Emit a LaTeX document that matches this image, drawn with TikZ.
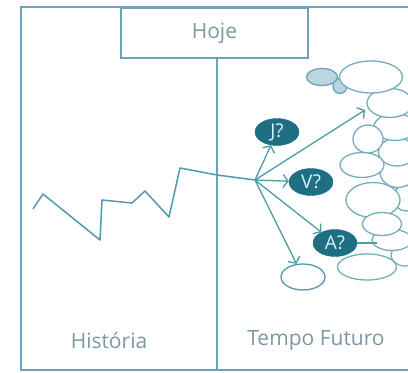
\documentclass[tikz,border=0pt]{standalone}
\usepackage{fontspec}
\setmainfont{Open Sans}
\usetikzlibrary{arrows.meta,shapes.geometric}
\definecolor{framec}{HTML}{6AA3BA}
\definecolor{linec}{HTML}{4F9BAA}
\definecolor{darkc}{HTML}{1E6F84}
\definecolor{labc}{HTML}{7A99A2}
\definecolor{shadec}{HTML}{BBD6DF}
\tikzset{
  frameline/.style={draw=framec, line width=1.8pt},
  trace/.style={draw=linec, line width=1.5pt, line join=round},
  branch/.style={draw=linec, line width=1.3pt, -{Straight Barb[length=5pt,width=13pt]}},
  label/.style={text=labc, font=\fontsize{21}{24}\selectfont},
  option/.style={ellipse, fill=darkc, draw=darkc, inner sep=0pt, minimum width=44pt, minimum height=27pt,
    text=white!85!cyan, font=\fontsize{19}{21}\selectfont},
  blob/.style={ellipse, draw=linec!80, line width=1.3pt, fill=white, inner sep=0pt},
  shadeblob/.style={ellipse, draw=framec, line width=1.3pt, fill=shadec, inner sep=0pt},
}
\begin{document}
\begin{tikzpicture}[x=1pt,y=-1pt]
\useasboundingbox (0,0) rectangle (408,373);
\clip (0,0) rectangle (408,373);
\fill[white] (0,0) rectangle (408,373);

% outer frame, header box and divider
\draw[frameline] (21,7) rectangle (414,370);
\node[frameline, fill=white, minimum width=187pt, minimum height=50pt, inner sep=0pt,
      label, anchor=north west] (today) at (120,7) {Hoje};
\coordinate (divtop) at (217,57);
\coordinate (divbot) at (217,370);
\draw[frameline] (today.south -| divtop) -- (divbot);

% labels
\node[label] (history) at (109,341) {História};
\node[label] (future) at (316,341) {Tempo Futuro};

% cloud of future possibilities
\node[shadeblob, minimum width=14pt, minimum height=15pt] (s2) at (340,86) {};
\node[shadeblob, minimum width=31pt, minimum height=17pt] (s1) at (322,77) {};
\node[blob, minimum width=28pt, minimum height=22pt] (c14) at (405,255) {};
\node[blob, minimum width=40pt, minimum height=21pt] (c11) at (392,240) {};
\node[blob, minimum width=26pt, minimum height=26pt] (c12) at (406,198) {};
\node[blob, minimum width=36pt, minimum height=31pt] (c9) at (398,172) {};
\node[blob, minimum width=37pt, minimum height=28pt] (c6) at (397,152) {};
\node[blob, minimum width=42pt, minimum height=27pt] (c5) at (395,127) {};
\node[blob, minimum width=46pt, minimum height=29pt] (c3) at (390,103) {};
\node[blob, minimum width=63pt, minimum height=32pt] (c2) at (371,77) {};
\node[blob, minimum width=30pt, minimum height=28pt] (c7) at (368,139) {};
\node[blob, minimum width=44pt, minimum height=25pt] (c8) at (362,165) {};
\node[blob, minimum width=54pt, minimum height=35pt] (c10) at (373,200) {};
\node[blob, minimum width=39pt, minimum height=23pt] (c13) at (382,224) {};
\node[blob, minimum width=59pt, minimum height=26pt] (c15) at (367,267) {};

% options
\node[option] (J) at (277,132) {J?};
\node[option] (V) at (311,182) {V?};
\node[option] (A) at (335,243) {A?};
\node[blob, draw=linec, minimum width=44pt, minimum height=26pt] (E) at (303,277) {};
\draw[trace] (A.east) -- ++(20,0) coordinate (aend);

% history trace
\coordinate (h0) at (33,209);
\coordinate (hub) at (255,180);
\draw[trace] (h0) -- (43,194) -- (100,240) -- (102,200) -- (132,203) -- (145,191)
  -- (169,217) -- (180,168) -- (217,175) -- (hub);

% branches
\coordinate (top) at (365,110);
\draw[branch] (hub) -- (J);
\draw[branch] (hub) -- (V);
\draw[branch] (hub) -- (top);
\draw[branch] (hub) -- (A);
\draw[branch] (hub) -- (E);
\end{tikzpicture}
\end{document}
